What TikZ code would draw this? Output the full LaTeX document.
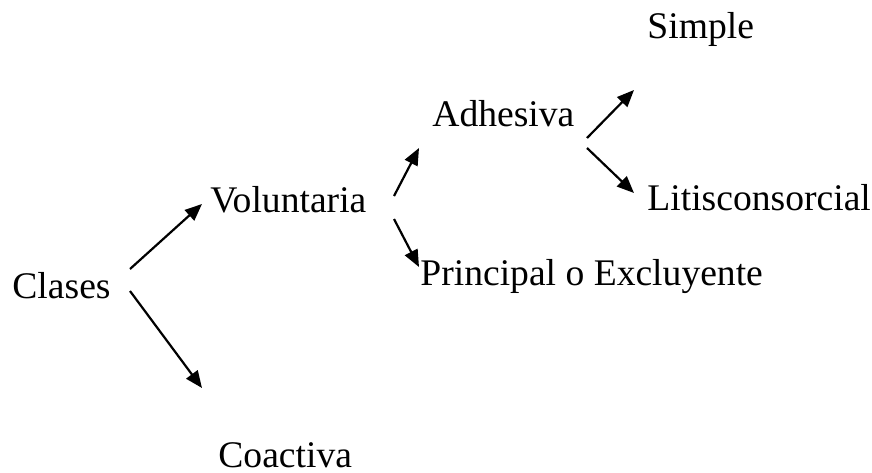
\documentclass[tikz,border=0pt]{standalone}
\usepackage{fontspec}
\setmainfont{Liberation Serif}
\usetikzlibrary{arrows.meta}

\begin{document}
\begin{tikzpicture}[x=0.5pt,y=-0.5pt,
	lbl/.style={anchor=base west, inner sep=0mm, font=\fontsize{18.8}{18.8}\selectfont},
	arr/.style={-{Triangle[length=8.5pt,width=7pt]}, line width=1.1pt}]
	\useasboundingbox (0,0) rectangle (872,472);

	\node[lbl] at (12,298) (clases) {Clases};
	\node[lbl] at (210,212) (vol) {Voluntaria};
	\node[lbl] at (218,467) (coac) {Coactiva};
	\node[lbl] at (432,126) (adh) {Adhesiva};
	\node[lbl] at (420,285) (princ) {Principal o Excluyente};
	\node[lbl] at (647,38) (simple) {Simple};
	\node[lbl] at (647,210) (litis) {Litisconsorcial};

	% Clases
	\draw[arr] ([xshift=59pt,yshift=14.5pt]clases.base west) -- ([xshift=-4pt,yshift=4pt]vol.base west);
	\draw[arr] ([xshift=59pt,yshift=3.5pt]clases.base west) -- ([xshift=-8pt,yshift=39.5pt]coac.base west);

	% Voluntaria
	\draw[arr] ([xshift=92pt,yshift=8pt]vol.base west) -- ([xshift=-6.5pt,yshift=-11pt]adh.base west);
	\draw[arr] ([xshift=92pt,yshift=-3.5pt]vol.base west) -- ([xshift=-0.5pt,yshift=9pt]princ.base west);

	% Adhesiva
	\draw[arr] ([xshift=77.5pt,yshift=-6pt]adh.base west) -- ([xshift=-6.5pt,yshift=-26pt]simple.base west);
	\draw[arr] ([xshift=77.5pt,yshift=-11pt]adh.base west) -- ([xshift=-6.5pt,yshift=8.5pt]litis.base west);
\end{tikzpicture}
\end{document}
